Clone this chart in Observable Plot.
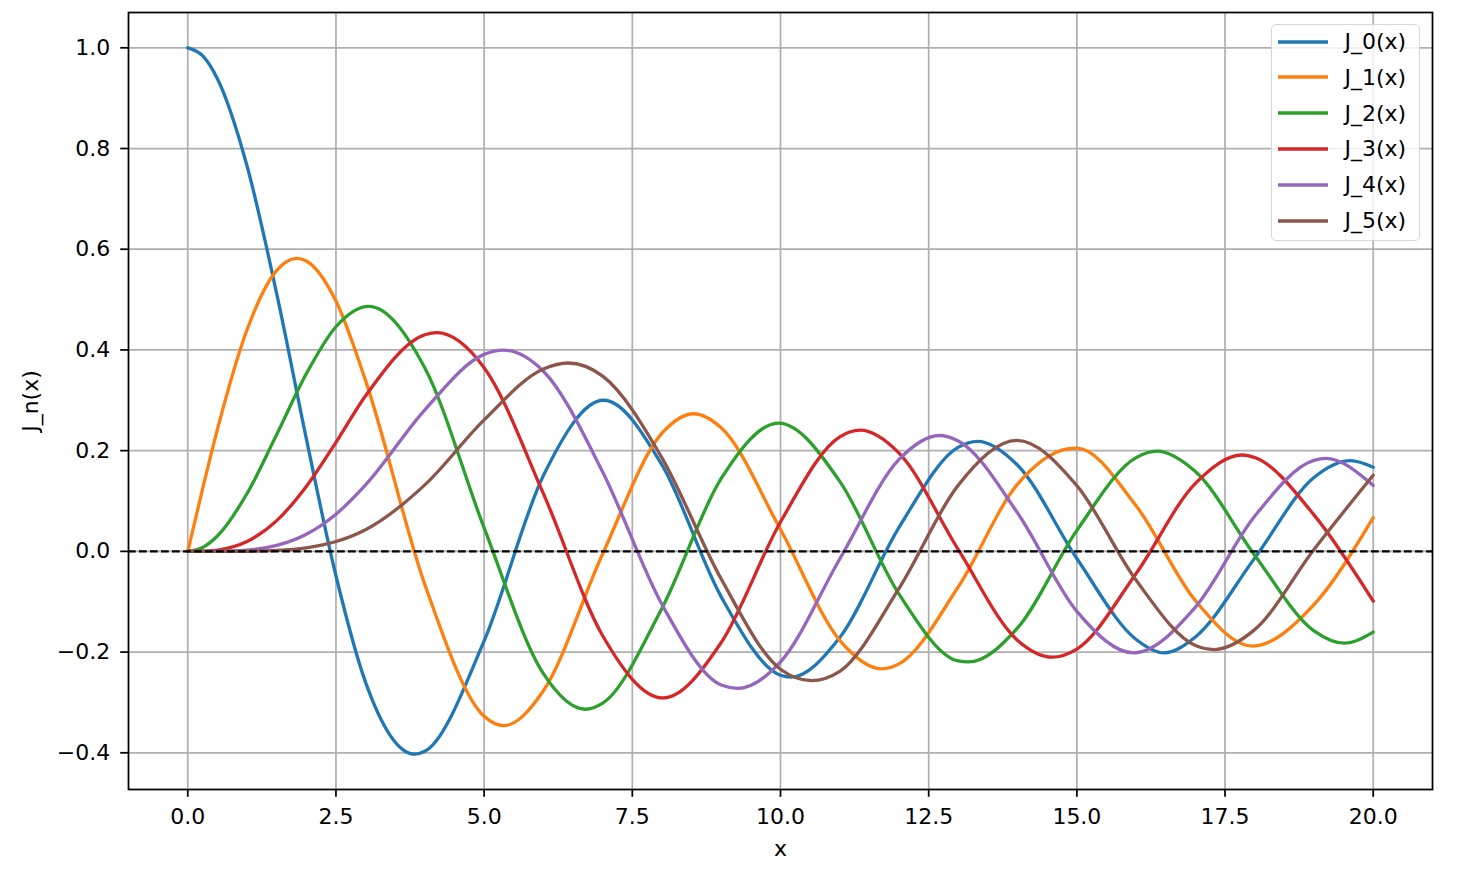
<!DOCTYPE html>
<html><head><meta charset="utf-8">
<script src="https://cdn.jsdelivr.net/npm/d3@7"></script>
<script src="https://cdn.jsdelivr.net/npm/@observablehq/plot@0.6"></script>
<style>
body{margin:0;background:#fff;font-family:"DejaVu Sans",sans-serif;}
#wrap{position:relative;width:1476px;height:876px;}
#legend{position:absolute;left:1271px;top:24px;width:149px;height:217px;border:1.5px solid #d6d6d6;border-radius:5px;background:rgba(255,255,255,0.8);box-sizing:border-box;}
.row{position:absolute;left:0;height:36px;display:flex;align-items:center;font-size:22px;color:#000;white-space:nowrap;}
.row svg{margin-left:5.5px;margin-right:17px;}
</style>
</head><body>
<div id="wrap"><div id="legend"></div></div>
<script>
const seriesNames = ["J_0(x)", "J_1(x)", "J_2(x)", "J_3(x)", "J_4(x)", "J_5(x)"];
const seriesColors = ["#1f77b4", "#ff7f0e", "#2ca02c", "#d62728", "#9467bd", "#8c564b"];

const xGrid = [0, 0.25, 0.5, 1, 1.5, 2, 2.5, 3, 4, 5, 6, 7, 8, 9, 10, 11, 12, 13, 14, 15, 16, 17, 18, 19, 20];
const j0 = [1, 0.9844, 0.9385, 0.7652, 0.5118, 0.2239, -0.0484, -0.2601, -0.3971, -0.1776, 0.1506, 0.3001, 0.1717, -0.0903, -0.2459, -0.1712, 0.0477, 0.2069, 0.1711, -0.0142, -0.1749, -0.1699, -0.0134, 0.1466, 0.1670];
const j1 = [0, 0.1240, 0.2423, 0.4401, 0.5579, 0.5767, 0.4971, 0.3391, -0.0660, -0.3276, -0.2767, -0.0047, 0.2346, 0.2453, 0.0435, -0.1768, -0.2234, -0.0703, 0.1334, 0.2051, 0.0904, -0.0977, -0.1880, -0.1057, 0.0668];
const j2 = [0, 0.0078, 0.0306, 0.1149, 0.2321, 0.3528, 0.4461, 0.4861, 0.3641, 0.0466, -0.2428, -0.3014, -0.1130, 0.1448, 0.2546, 0.1391, -0.0849, -0.2177, -0.1520, 0.0416, 0.1862, 0.1584, -0.0075, -0.1577, -0.1603];
const j3 = [0, 0.0003, 0.0026, 0.0196, 0.0610, 0.1289, 0.2166, 0.3091, 0.4302, 0.3648, 0.1148, -0.1676, -0.2911, -0.1809, 0.0583, 0.2274, 0.1951, 0.0033, -0.1768, -0.1940, -0.0438, 0.1350, 0.1863, 0.0725, -0.0989];
const j4 = [0, 0.0000, 0.0002, 0.0025, 0.0118, 0.0340, 0.0738, 0.1321, 0.2811, 0.3912, 0.3576, 0.1578, -0.1054, -0.2654, -0.2196, -0.0151, 0.1825, 0.2192, 0.0762, -0.1192, -0.2026, -0.1108, 0.0696, 0.1806, 0.1307];
const j5 = [0, 0.0000, 0.0000, 0.0002, 0.0018, 0.0070, 0.0195, 0.0430, 0.1321, 0.2611, 0.3621, 0.3479, 0.1858, -0.0550, -0.2341, -0.2383, -0.0735, 0.1316, 0.2204, 0.1305, -0.0575, -0.1871, -0.1554, 0.0036, 0.1512];

const j0Peaks = [[3.832, -0.4028], [7.016, 0.3001], [10.173, -0.2497], [13.324, 0.2184], [16.471, -0.2016], [19.616, 0.1801]];
const j1Peaks = [[1.841, 0.5819], [5.331, -0.3461], [8.536, 0.2733], [11.706, -0.2333], [14.864, 0.2039], [17.960, -0.1880]];
const j2Peaks = [[3.054, 0.4865], [6.706, -0.3135], [9.969, 0.2547], [13.170, -0.2196], [16.348, 0.1990], [19.513, -0.1822]];
const j3Peaks = [[4.201, 0.4344], [8.015, -0.2911], [11.346, 0.2406], [14.586, -0.2101], [17.789, 0.1914]];
const j4Peaks = [[5.318, 0.3997], [9.282, -0.2721], [12.682, 0.2301], [15.964, -0.2017], [19.196, 0.1845]];
const j5Peaks = [[6.416, 0.3741], [10.520, -0.2567], [13.987, 0.2204], [17.313, -0.1950]];

const xTicks = [0, 2.5, 5, 7.5, 10, 12.5, 15, 17.5, 20];
const yTicks = [-0.4, -0.2, 0, 0.2, 0.4, 0.6, 0.8, 1.0];

const valueLists = [j0, j1, j2, j3, j4, j5];
const peakLists = [j0Peaks, j1Peaks, j2Peaks, j3Peaks, j4Peaks, j5Peaks];
const data = [];
seriesNames.forEach((name, i) => {
  const pts = xGrid.map((x, k) => ({x, y: valueLists[i][k]}))
    .filter(p => !peakLists[i].some(([px]) => Math.abs(px - p.x) < 0.12));
  peakLists[i].forEach(([x, y]) => pts.push({x, y}));
  pts.sort((a, b) => a.x - b.x);
  pts.forEach(p => data.push({series: name, x: p.x, y: p.y}));
});

const fmt = d3.format(".1f");
const chart = Plot.plot({
  width: 1476, height: 876,
  marginLeft: 128, marginRight: 44, marginTop: 12, marginBottom: 87,
  style: {fontFamily: "DejaVu Sans", fontSize: "22px", color: "#000", background: "#fff"},
  x: {domain: [-1, 21]},
  y: {domain: [-0.4729, 1.0701]},
  color: {domain: seriesNames, range: seriesColors},
  marks: [
    Plot.gridX(xTicks, {stroke: "#b0b0b0", strokeOpacity: 1, strokeWidth: 1.75}),
    Plot.gridY(yTicks, {stroke: "#b0b0b0", strokeOpacity: 1, strokeWidth: 1.75}),
    Plot.line(data, {x: "x", y: "y", z: "series", stroke: "series", curve: "monotone-x", strokeWidth: 3.3}),
    Plot.ruleY([0], {stroke: "#000", strokeWidth: 2.1, strokeDasharray: "7.7,3.3"}),
    Plot.frame({stroke: "#000", strokeWidth: 1.75}),
    Plot.axisX(xTicks, {tickSize: 7.8, tickPadding: 11.5, tickFormat: fmt, label: null, strokeWidth: 1.75}),
    Plot.axisY(yTicks, {tickSize: 7.8, tickPadding: 10.5, tickFormat: fmt, label: null, strokeWidth: 1.75}),
    Plot.text(["x"], {frameAnchor: "bottom", dy: 59, lineAnchor: "middle", textAnchor: "middle"}),
    Plot.text(["J_n(x)"], {frameAnchor: "left", dx: -98, rotate: -90, lineAnchor: "middle", textAnchor: "middle"})
  ]
});
document.getElementById("wrap").prepend(chart);

const legend = document.getElementById("legend");
seriesNames.forEach((name, i) => {
  const row = document.createElement("div");
  row.className = "row";
  row.style.top = (-1.5 + i * 35.8) + "px";
  row.innerHTML = `<svg width="50" height="6"><line x1="0" y1="3" x2="50" y2="3" stroke="${seriesColors[i]}" stroke-width="3.3"/></svg><span>${name}</span>`;
  legend.appendChild(row);
});
</script>
</body></html>
